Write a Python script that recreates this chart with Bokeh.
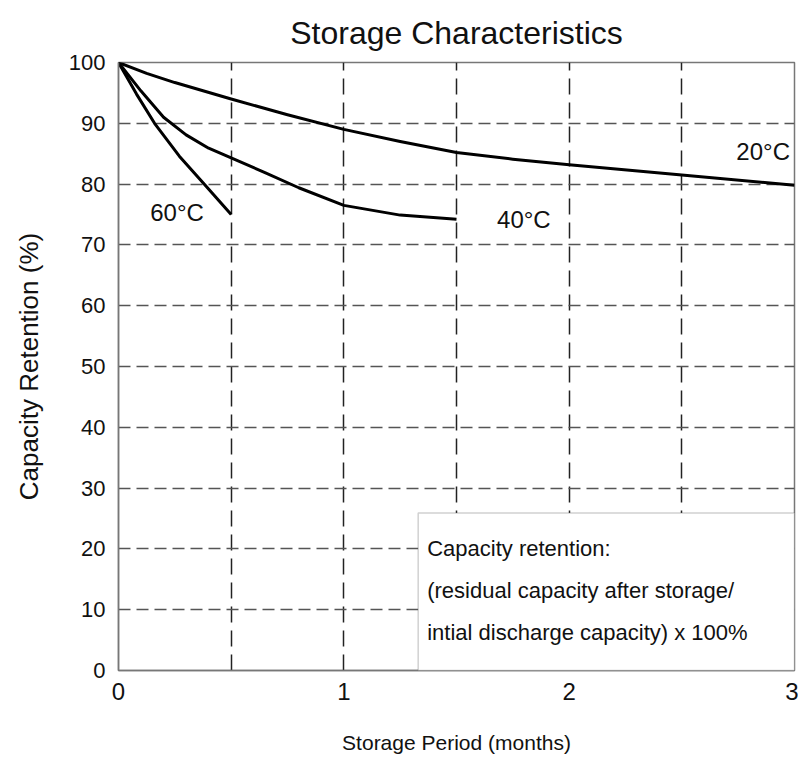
from bokeh.plotting import figure
from bokeh.models import FixedTicker, Range1d, BoxAnnotation, Label
from bokeh.embed import file_html
from bokeh.resources import INLINE

FONT = "Liberation Sans"

# Data (months, capacity retention %)
x_20 = [0, 0.125, 0.25, 0.5, 0.75, 1.0, 1.25, 1.5, 1.75, 2.0, 2.5, 3.0]
y_20 = [100, 98.2, 96.7, 94.0, 91.4, 89.0, 87.0, 85.2, 84.1, 83.2, 81.5, 79.8]
x_40 = [0, 0.1, 0.2, 0.3, 0.4, 0.5, 0.65, 0.8, 1.0, 1.25, 1.5]
y_40 = [100, 95.3, 91.0, 88.1, 85.9, 84.3, 81.9, 79.4, 76.5, 74.9, 74.2]
x_60 = [0, 0.08, 0.16, 0.27, 0.38, 0.5]
y_60 = [100, 94.8, 90.0, 84.6, 80.0, 75.0]

chart_title = "Storage Characteristics"
curve_labels = ["60\u00b0C", "40\u00b0C", "20\u00b0C"]
label_x = [0.26, 1.68, 2.98]
label_y = [75.3, 74.1, 85.3]

x_ticks = [0, 1, 2, 3]
x_grid = [0.5, 1, 1.5, 2, 2.5]
y_ticks = [0, 10, 20, 30, 40, 50, 60, 70, 80, 90, 100]

note_lines = ["Capacity retention:",
              "(residual capacity after storage/",
              "intial discharge capacity) x 100%"]
note_y = [20.1, 13.2, 6.3]

p = figure(width=798, height=761, output_backend="svg", toolbar_location=None,
           x_range=Range1d(0, 3), y_range=Range1d(0, 100),
           min_border_left=118, min_border_right=4, min_border_top=62, min_border_bottom=91,
           title=chart_title)
p.title.align = "center"
p.title.standoff = 24
p.title.text_font = FONT
p.title.text_font_size = "32px"
p.title.text_font_style = "normal"
p.title.text_color = "#111111"

p.xaxis.ticker = FixedTicker(ticks=x_ticks)
p.yaxis.ticker = FixedTicker(ticks=y_ticks)
p.xgrid.ticker = FixedTicker(ticks=x_grid)
p.ygrid.ticker = FixedTicker(ticks=y_ticks[1:-1])

p.xgrid.grid_line_color = "#222222"
p.xgrid.grid_line_dash = "16 8"
p.xgrid.grid_line_width = 1.5
p.ygrid.grid_line_color = "#555555"
p.ygrid.grid_line_dash = "12 6"
p.ygrid.grid_line_width = 1.5

for ax in (p.xaxis[0], p.yaxis[0]):
    ax.major_tick_out = 0
    ax.major_tick_in = 0
    ax.minor_tick_out = 0
    ax.minor_tick_in = 0
    ax.axis_line_color = "#777777"
    ax.axis_line_width = 1.5
    ax.major_label_text_font = FONT
    ax.major_label_text_color = "#111111"
    ax.axis_label_text_font = FONT
    ax.axis_label_text_font_style = "normal"
    ax.axis_label_text_color = "#111111"

p.xaxis.major_label_text_font_size = "24px"
p.yaxis.major_label_text_font_size = "22px"
p.xaxis.axis_label = "Storage Period (months)"
p.xaxis.axis_label_text_font_size = "21px"
p.xaxis.major_label_standoff = 12
p.xaxis.axis_label_standoff = 28
p.yaxis.axis_label = "Capacity Retention (%)"
p.yaxis.axis_label_text_font_size = "26px"
p.yaxis.major_label_standoff = 13
p.yaxis.axis_label_standoff = 22

p.outline_line_color = "#777777"
p.outline_line_width = 1.5

for xs, ys in ((x_20, y_20), (x_40, y_40), (x_60, y_60)):
    p.line(xs, ys, line_color="black", line_width=3, line_join="round")

aligns = ["center", "left", "right"]
for t, lx, ly, al in zip(curve_labels, label_x, label_y, aligns):
    p.add_layout(Label(x=lx, y=ly, text=t, text_align=al, text_baseline="middle",
                       text_font=FONT, text_font_size="24px", text_color="#111111"))

box = BoxAnnotation(left=1.33, right=3, bottom=0, top=25.9,
                    fill_color="white", fill_alpha=1.0,
                    line_color="#666666", line_width=1.5)
p.add_layout(box)
for t, ny in zip(note_lines, note_y):
    p.add_layout(Label(x=1.37, y=ny, text=t, text_align="left", text_baseline="middle",
                       text_font=FONT, text_font_size="22px", text_color="#111111"))

with open("out.html", "w") as f:
    f.write(file_html(p, INLINE))
